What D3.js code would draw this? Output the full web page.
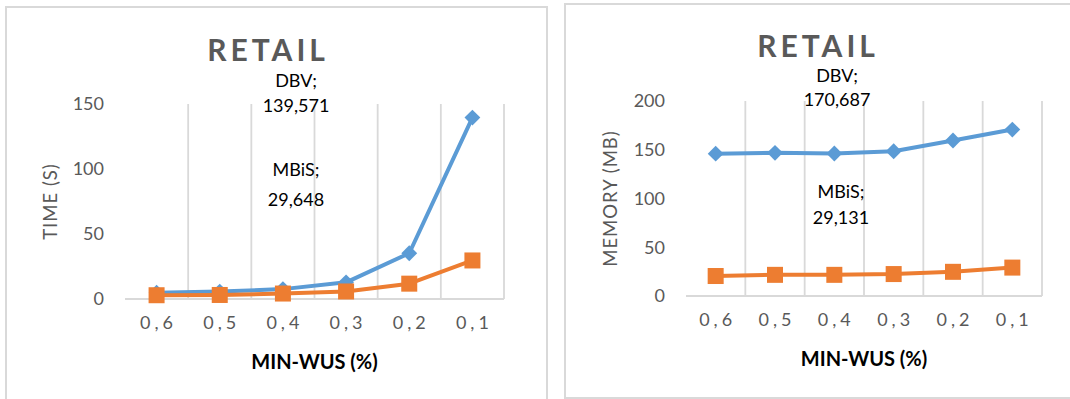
<!DOCTYPE html>
<html><head><meta charset="utf-8">
<script src="https://cdn.jsdelivr.net/npm/d3@7"></script>
<style>
html,body{margin:0;padding:0;background:#fff;}
svg{display:block;font-family:Lato,"Open Sans",sans-serif;}
</style></head>
<body><svg id="c" width="1070" height="399"></svg>
<script>
// ---- data ----
const categories = ["0,6","0,5","0,4","0,3","0,2","0,1"];
const timeDBV  = [4.8, 5.7, 7.6, 12.8, 35.2, 139.571];
const timeMBiS = [2.9, 3.1, 4.2, 5.8, 11.8, 29.648];
const memDBV   = [146.0, 146.8, 146.2, 148.5, 159.5, 170.687];
const memMBiS  = [20.5, 21.7, 21.7, 22.5, 24.8, 29.131];
const timeTicks = [0, 50, 100, 150];
const memTicks  = [0, 50, 100, 150, 200];
const chartTitle = "RETAIL";
const xTitle = "MIN-WUS (%)";
const timeTitle = "TIME (S)";
const memTitle = "MEMORY (MB)";
const timeLabels = ["DBV;", "139,571", "MBiS;", "29,648"];
const memLabels  = ["DBV;", "170,687", "MBiS;", "29,131"];

const svg = d3.select("#c");
const BLUE = "#5B9BD5", ORANGE = "#ED7D31", GRID = "#d9d9d9", TXT = "#595959";

function chart(cfg) {
  const g = svg.append("g");
  // frame
  g.append("rect").attr("x", cfg.frame[0]).attr("y", cfg.frame[1])
    .attr("width", cfg.frame[2]).attr("height", cfg.frame[3])
    .attr("fill", "none").attr("stroke", GRID).attr("stroke-width", 2);

  const x = d3.scaleBand().domain(categories).range([cfg.x0, cfg.x1]);
  const y = d3.scaleLinear().domain([0, cfg.ymax]).range([cfg.y0, cfg.y1]);

  // vertical gridlines at band boundaries
  const bounds = categories.map(c => x(c)).concat([cfg.x1]);
  g.selectAll(".vg").data(bounds.slice(1)).join("line")
    .attr("x1", d => d).attr("x2", d => d)
    .attr("y1", y(cfg.ymax)).attr("y2", y(0))
    .attr("stroke", GRID).attr("stroke-width", 1.8);
  // x axis baseline
  g.append("line").attr("x1", cfg.x0).attr("x2", cfg.x1)
    .attr("y1", y(0)).attr("y2", y(0)).attr("stroke", GRID).attr("stroke-width", 2);

  // y tick labels
  g.selectAll(".yt").data(cfg.ticks).join("text")
    .attr("x", cfg.x0 - 21).attr("y", d => y(d)).attr("dy", "0.36em")
    .attr("text-anchor", "end").attr("fill", TXT).attr("font-size", 18)
    .text(d => d);
  // x tick labels
  g.selectAll(".xt").data(categories).join("text")
    .attr("x", d => x(d) + x.bandwidth() / 2 + 2).attr("y", y(0) + 24).attr("dy", "0.36em")
    .attr("text-anchor", "middle").attr("fill", TXT).attr("font-size", 18)
    .attr("letter-spacing", "4px")
    .text(d => d);

  // titles
  g.append("text").attr("x", cfg.titleX).attr("y", cfg.titleY)
    .attr("text-anchor", "middle").attr("fill", TXT).attr("font-size", 30)
    .attr("font-weight", "bold").attr("letter-spacing", "4px").text(chartTitle);
  g.append("text").attr("x", (cfg.x0 + cfg.x1) / 2).attr("y", y(0) + 70)
    .attr("text-anchor", "middle").attr("fill", "#000").attr("font-size", 20)
    .attr("font-weight", "bold").text(xTitle);
  g.append("text")
    .attr("transform", `translate(${cfg.ytX},${(y(0) + y(cfg.ymax)) / 2}) rotate(-90)`)
    .attr("text-anchor", "middle").attr("dy", "0.36em").attr("fill", TXT)
    .attr("font-size", 18.5).attr("letter-spacing", cfg.ytLS).text(cfg.yTitle);

  const cx = d => x(d) + x.bandwidth() / 2;
  const line = d3.line().x((d, i) => cx(categories[i])).y(d => y(d));

  // DBV line + diamonds
  g.append("path").datum(cfg.dbv).attr("d", line).attr("fill", "none")
    .attr("stroke", BLUE).attr("stroke-width", 4).attr("stroke-linejoin", "round");
  g.selectAll(".dm").data(cfg.dbv).join("path")
    .attr("d", d3.symbol().type(d3.symbolDiamond2).size(160))
    .attr("transform", (d, i) => `translate(${cx(categories[i])},${y(d)})`)
    .attr("fill", BLUE);
  // MBiS line + squares
  g.append("path").datum(cfg.mbis).attr("d", line).attr("fill", "none")
    .attr("stroke", ORANGE).attr("stroke-width", 4).attr("stroke-linejoin", "round");
  g.selectAll(".sq").data(cfg.mbis).join("rect")
    .attr("x", (d, i) => cx(categories[i]) - 8).attr("y", d => y(d) - 8)
    .attr("width", 16).attr("height", 16).attr("fill", ORANGE);

  // data labels
  const L = cfg.labels;
  [[L[0], cfg.lab[0], cfg.lab[1]], [L[1], cfg.lab[0], cfg.lab[2]],
   [L[2], cfg.lab[3], cfg.lab[4]], [L[3], cfg.lab[3], cfg.lab[5]]].forEach(t => {
    g.append("text").attr("x", t[1]).attr("y", t[2]).attr("dy", "0.36em")
      .attr("text-anchor", "middle").attr("fill", "#000").attr("font-size", 18)
      .text(t[0]);
  });
}

chart({
  frame: [6, 7, 541, 400], x0: 125, x1: 504, y0: 299, y1: 104, ymax: 150,
  ticks: timeTicks, dbv: timeDBV, mbis: timeMBiS, labels: timeLabels,
  yTitle: timeTitle, ytX: 50, ytLS: "1px",
  titleX: 268, titleY: 61,
  lab: [296, 81, 106, 296, 170, 200]
});
chart({
  frame: [565, 4, 510, 394], x0: 686, x1: 1042, y0: 296, y1: 101, ymax: 200,
  ticks: memTicks, dbv: memDBV, mbis: memMBiS, labels: memLabels,
  yTitle: memTitle, ytX: 610, ytLS: "1px",
  titleX: 818, titleY: 57,
  lab: [837, 76, 100, 841, 192, 218]
});
</script></body></html>
